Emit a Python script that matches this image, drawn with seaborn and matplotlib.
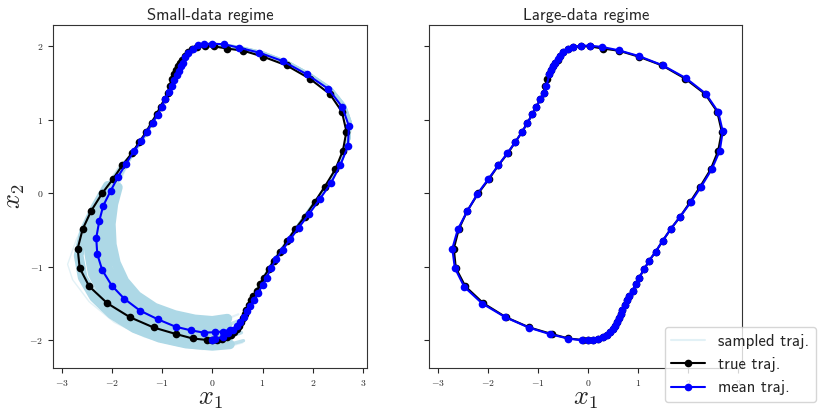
import matplotlib
matplotlib.use("Agg")
import matplotlib.pyplot as plt
import matplotlib.ticker as mticker
import seaborn as sns
import numpy as np

# true trajectory (black), starts at (0, -2), runs counter-clockwise
true_x = [0.00, 0.10, 0.20, 0.29, 0.37, 0.43, 0.49, 0.53, 0.57, 0.61, 0.65, 0.68, 0.73, 0.77,
          0.82, 0.89, 0.95, 1.02, 1.12, 1.22, 1.35, 1.49, 1.65, 1.84, 2.04, 2.24, 2.45, 2.60,
          2.67, 2.58, 2.34, 1.94, 1.48, 1.01, 0.62, 0.30, 0.03, -0.15, -0.30, -0.40, -0.49,
          -0.55, -0.60, -0.65, -0.69, -0.73, -0.77, -0.81, -0.85, -0.88, -0.95, -1.03, -1.11,
          -1.21, -1.32, -1.45, -1.60, -1.79, -1.98, -2.19, -2.41, -2.58, -2.68, -2.64, -2.45,
          -2.09, -1.64, -1.17, -0.72, -0.39, -0.11]
true_y = [-2.00, -2.00, -1.985, -1.96, -1.93, -1.895, -1.85, -1.805, -1.755, -1.705, -1.65,
          -1.59, -1.52, -1.455, -1.40, -1.33, -1.24, -1.15, -1.04, -0.92, -0.80, -0.65, -0.49,
          -0.32, -0.12, 0.09, 0.325, 0.58, 0.84, 1.11, 1.35, 1.56, 1.74, 1.86, 1.94, 1.97, 2.00,
          2.00, 1.99, 1.965, 1.92, 1.87, 1.82, 1.78, 1.73, 1.68, 1.62, 1.55, 1.46, 1.37, 1.28,
          1.18, 1.075, 0.96, 0.83, 0.70, 0.545, 0.38, 0.19, 0.00, -0.24, -0.49, -0.755, -1.02,
          -1.27, -1.50, -1.69, -1.83, -1.92, -1.98, -2.00]

# mean trajectory, small-data regime
small_x = [0.00, 0.05, 0.21, 0.32, 0.42, 0.50, 0.56, 0.63, 0.70, 0.76, 0.83, 0.91, 1.00, 1.08,
           1.17, 1.27, 1.40, 1.55, 1.72, 1.92, 2.14, 2.36, 2.55, 2.70, 2.72, 2.59, 2.31, 1.88,
           1.40, 0.93, 0.54, 0.23, 0.00, -0.17, -0.28, -0.39, -0.48, -0.54, -0.59, -0.63, -0.67,
           -0.71, -0.76, -0.81, -0.87, -0.94, -1.01, -1.09, -1.19, -1.30, -1.42, -1.56, -1.72,
           -1.875, -2.02, -2.17, -2.25, -2.31, -2.29, -2.19, -2.00, -1.75, -1.44, -1.08, -0.73,
           -0.42, -0.17, 0.05, 0.21, 0.35]
small_y = [-2.00, -1.99, -1.955, -1.91, -1.86, -1.81, -1.755, -1.69, -1.61, -1.54, -1.455,
           -1.36, -1.255, -1.15, -1.02, -0.90, -0.77, -0.63, -0.47, -0.29, -0.08, 0.135, 0.385,
           0.64, 0.91, 1.17, 1.42, 1.62, 1.80, 1.915, 1.98, 2.03, 2.035, 2.03, 2.015, 1.97,
           1.91, 1.85, 1.78, 1.73, 1.67, 1.61, 1.54, 1.46, 1.38, 1.28, 1.18, 1.07, 0.96, 0.84,
           0.71, 0.57, 0.40, 0.225, 0.035, -0.17, -0.38, -0.61, -0.83, -1.05, -1.26, -1.44,
           -1.60, -1.72, -1.82, -1.87, -1.90, -1.895, -1.885, -1.86]

# mean trajectory, large-data regime
large_x = [0.00, 0.10, 0.20, 0.29, 0.37, 0.43, 0.49, 0.53, 0.57, 0.61, 0.65, 0.68, 0.73, 0.77,
           0.82, 0.89, 0.95, 1.02, 1.12, 1.22, 1.35, 1.49, 1.65, 1.84, 2.05, 2.26, 2.47, 2.63,
           2.69, 2.60, 2.35, 1.95, 1.49, 1.01, 0.61, 0.28, 0.03, -0.15, -0.30, -0.40, -0.49,
           -0.55, -0.60, -0.65, -0.69, -0.73, -0.77, -0.83, -0.88, -0.95, -1.03, -1.11, -1.21,
           -1.32, -1.45, -1.61, -1.79, -1.99, -2.21, -2.41, -2.60, -2.71, -2.66, -2.47, -2.11,
           -1.65, -1.18, -0.75, -0.39, -0.12]
large_y = [-2.00, -2.00, -1.985, -1.963, -1.931, -1.895, -1.85, -1.805, -1.755, -1.705, -1.65,
           -1.59, -1.52, -1.455, -1.40, -1.328, -1.24, -1.15, -1.037, -0.92, -0.797, -0.65,
           -0.49, -0.32, -0.125, 0.09, 0.325, 0.575, 0.843, 1.106, 1.356, 1.569, 1.742, 1.869,
           1.947, 1.992, 2.01, 2.01, 1.992, 1.965, 1.919, 1.869, 1.823, 1.778, 1.728, 1.678,
           1.623, 1.46, 1.37, 1.28, 1.18, 1.075, 0.96, 0.833, 0.697, 0.547, 0.38, 0.193,
           -0.011, -0.243, -0.493, -0.756, -1.019, -1.278, -1.505, -1.691, -1.832, -1.923,
           -1.982, -2.005]

# sampled trajectories: shared early part, then the spread lower-left part
samp_head_x = [0.00, 0.30, 0.50, 0.62, 0.75, 0.95, 1.22, 1.50, 1.85, 2.12, 2.38, 2.58, 2.72,
               2.74, 2.63, 2.36, 1.95, 1.50, 1.00, 0.50, 0.00, -0.30, -0.50, -0.62, -0.75,
               -0.90, -1.10, -1.35, -1.60]
samp_head_y = [-2.00, -1.96, -1.83, -1.70, -1.50, -1.25, -0.93, -0.65, -0.31, -0.06, 0.21,
               0.47, 0.75, 0.97, 1.19, 1.42, 1.61, 1.78, 1.91, 1.99, 2.03, 2.01, 1.91, 1.75,
               1.55, 1.33, 1.07, 0.78, 0.52]
samp_tail_x = [
    [-1.75, -1.88, -1.97, -2.02, -2.00, -1.92, -1.75, -1.50, -1.15, -0.75, -0.35, 0.00, 0.30, 0.52],
    [-1.78, -1.94, -2.08, -2.17, -2.17, -2.08, -1.88, -1.60, -1.22, -0.80, -0.38, 0.00, 0.30, 0.52],
    [-1.80, -1.99, -2.16, -2.28, -2.30, -2.22, -2.02, -1.72, -1.32, -0.88, -0.42, 0.00, 0.30, 0.55],
    [-1.82, -2.04, -2.25, -2.40, -2.45, -2.38, -2.17, -1.85, -1.42, -0.95, -0.47, 0.00, 0.32, 0.58],
    [-1.80, -2.08, -2.33, -2.55, -2.66, -2.58, -2.35, -2.00, -1.55, -1.05, -0.52, 0.00, 0.35, 0.62],
    [-1.82, -2.12, -2.42, -2.70, -2.88, -2.78, -2.45, -1.95, -1.35, -0.75, -0.20, 0.30, 0.60],
]
samp_tail_y = [
    [0.30, 0.08, -0.15, -0.42, -0.70, -0.95, -1.20, -1.40, -1.56, -1.66, -1.72, -1.74, -1.71, -1.65],
    [0.30, 0.08, -0.15, -0.45, -0.75, -1.02, -1.27, -1.47, -1.64, -1.75, -1.81, -1.83, -1.80, -1.74],
    [0.32, 0.08, -0.17, -0.47, -0.78, -1.06, -1.32, -1.53, -1.70, -1.82, -1.89, -1.91, -1.88, -1.82],
    [0.34, 0.08, -0.20, -0.50, -0.82, -1.10, -1.37, -1.59, -1.77, -1.89, -1.96, -1.99, -1.96, -1.90],
    [0.38, 0.10, -0.20, -0.52, -0.85, -1.15, -1.42, -1.65, -1.84, -1.97, -2.05, -2.08, -2.06, -2.01],
    [0.40, 0.10, -0.25, -0.62, -0.97, -1.18, -1.48, -1.76, -1.96, -2.07, -2.13, -2.10, -2.04],
]

titles = ["Small-data regime", "Large-data regime"]
x_ticks = [-3, -2, -1, 0, 1, 2, 3]
y_ticks = [-2, -1, 0, 1, 2]

sns.set_style("ticks")
plt.rcParams["font.family"] = ["cmss10", "DejaVu Sans"]
plt.rcParams["mathtext.fontset"] = "cm"
plt.rcParams["axes.edgecolor"] = "#333333"

fig = plt.figure(figsize=(8.3, 4.18), dpi=100)
ax1 = fig.add_axes([0.0639, 0.120, 0.3783, 0.820])
ax2 = fig.add_axes([0.5172, 0.120, 0.3771, 0.820], sharey=ax1)

samp_color = "lightblue"
line_kw = dict(sort=False, estimator=None, marker="o", markersize=5.5,
               markeredgewidth=0, linewidth=1.5)

# sampled trajectories (only visible in the small-data regime)
n_samp = len(samp_tail_x)
for i, (tx, ty) in enumerate(zip(samp_tail_x, samp_tail_y)):
    outer = i == n_samp - 1
    sns.lineplot(x=samp_head_x + tx, y=samp_head_y + ty, sort=False, estimator=None,
                 color=samp_color, linewidth=1.0 if outer else 2.5,
                 alpha=0.35 if outer else 0.8, ax=ax1,
                 label="sampled traj." if i == 0 else None)
    if not outer:
        # the spread part of the bundle is dense
        sns.lineplot(x=tx[1:-1], y=ty[1:-1], sort=False, estimator=None,
                     color=samp_color, linewidth=7, alpha=1.0, ax=ax1,
                     solid_capstyle="round")

for ax, mean_x, mean_y in [(ax1, small_x, small_y), (ax2, large_x, large_y)]:
    sns.lineplot(x=true_x, y=true_y, color="black", markeredgecolor="black",
                 label="true traj.", ax=ax, **line_kw)
    sns.lineplot(x=mean_x, y=mean_y, color="blue", markeredgecolor="blue",
                 label="mean traj.", ax=ax, **line_kw)

fmt = mticker.FuncFormatter(lambda v, p: r"$%d$" % v)
for ax, title in zip([ax1, ax2], titles):
    ax.set_title(title, fontsize=12, pad=4)
    ax.set_xlim(-3.17, 3.08)
    ax.set_ylim(-2.38, 2.29)
    ax.set_xticks(x_ticks)
    ax.set_yticks(y_ticks)
    ax.xaxis.set_major_formatter(fmt)
    ax.yaxis.set_major_formatter(fmt)
    ax.tick_params(labelsize=7, length=3.5, width=0.8)
    ax.set_xlabel(r"$x_1$", fontsize=19, labelpad=0)
    ax.get_legend().remove()
ax1.set_ylabel(r"$x_2$", fontsize=19, labelpad=2)
ax2.set_ylabel("")
ax2.tick_params(labelleft=False)

handles, labels = ax1.get_legend_handles_labels()
handles[0].set_linewidth(1.5)
handles[0].set_alpha(0.35)
fig.legend(handles, labels, loc="lower right", bbox_to_anchor=(0.993, 0.018),
           fontsize=12, frameon=True)

fig.savefig("out.png", dpi=100)
